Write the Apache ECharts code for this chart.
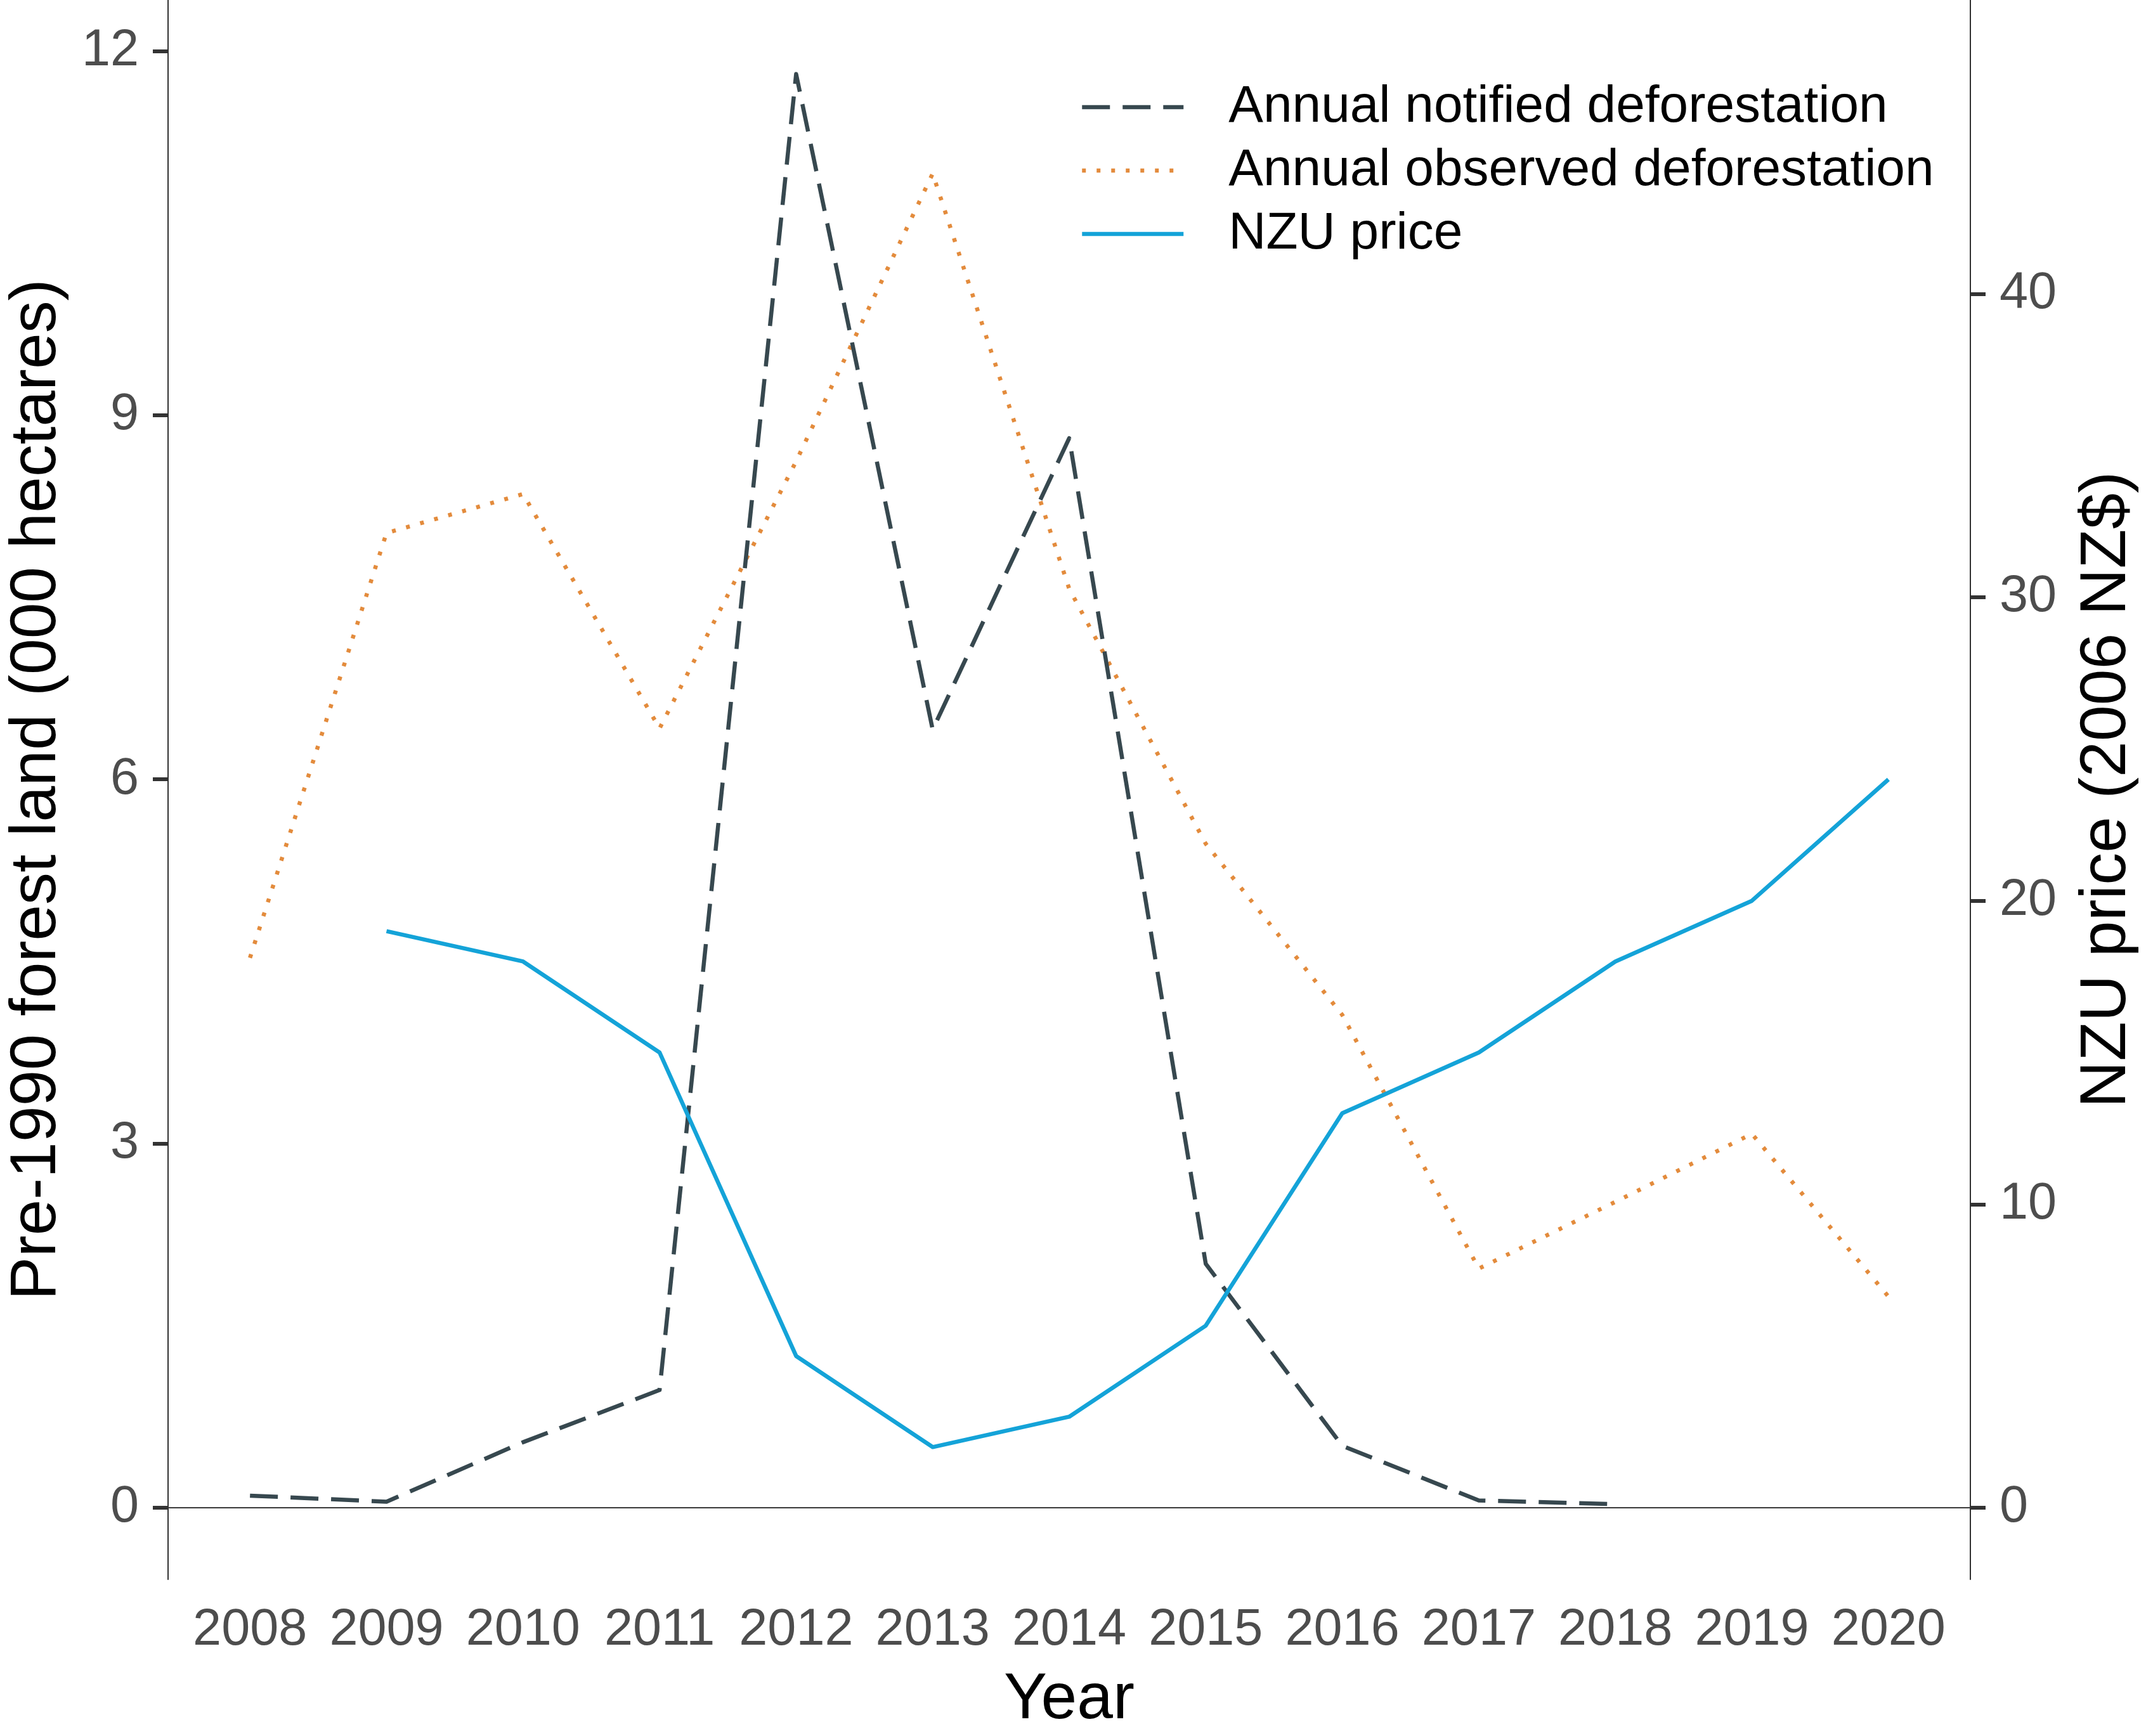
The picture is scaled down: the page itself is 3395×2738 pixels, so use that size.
<!DOCTYPE html>
<html>
<head>
<meta charset="utf-8">
<script src="https://cdn.jsdelivr.net/npm/echarts@6/dist/echarts.min.js"></script>
<style>
html,body{margin:0;padding:0;background:#fff;}
#chart{width:3395px;height:2738px;}
</style>
</head>
<body>
<div id="chart"></div>
<script>
const years = [2008, 2009, 2010, 2011, 2012, 2013, 2014, 2015, 2016, 2017, 2018, 2019, 2020];
const notifiedDeforestation = [0.10, 0.05, 0.54, 0.97, 11.81, 6.41, 8.81, 2.01, 0.51, 0.06, 0.03, null, null];
const observedDeforestation = [4.53, 8.03, 8.35, 6.42, 8.62, 10.99, 7.57, 5.47, 4.06, 1.97, 2.52, 3.08, 1.74];
const nzuPrice = [null, 19, 18, 15, 5, 2, 3, 6, 13, 15, 18, 20, 24];
const leftTicks = [0, 3, 6, 9, 12];
const rightTicks = [0, 10, 20, 30, 40];
const seriesNames = ['Annual notified deforestation', 'Annual observed deforestation', 'NZU price'];

const pairs = (vals) => years.map((y, i) => [y, vals[i]]).filter(p => p[1] !== null);

const FONT = 'Liberation Sans, Arial, sans-serif';
const LW = 6.5;
const chart = echarts.init(document.getElementById('chart'), null, {renderer: 'canvas'});
chart.setOption({
  animation: false,
  backgroundColor: '#ffffff',
  grid: {left: 264, right: 288, top: 0, bottom: 232, containLabel: false},
  legend: {
    orient: 'vertical',
    left: 1698,
    top: 114,
    itemWidth: 160,
    itemHeight: 20,
    itemGap: 0,
    data: seriesNames,
    itemStyle: {color: 'rgba(0,0,0,0)', borderWidth: 0, opacity: 0},
    lineStyle: {width: LW, opacity: 1},
    textStyle: {fontFamily: FONT, fontSize: 82, color: '#000', lineHeight: 100, padding: [0, 0, 0, 66]}
  },
  xAxis: {
    type: 'value',
    min: 2007.4,
    max: 2020.6,
    name: 'Year',
    nameLocation: 'middle',
    nameGap: 140,
    nameTextStyle: {fontFamily: FONT, fontSize: 102, color: '#000'},
    axisLine: {show: false},
    axisTick: {show: false},
    splitLine: {show: false},
    axisLabel: {
      customValues: years,
      margin: 40,
      fontFamily: FONT, fontSize: 81, color: '#4d4d4d',
      formatter: v => String(v)
    }
  },
  yAxis: [{
    type: 'value',
    position: 'left',
    min: -0.59,
    max: 12.42,
    name: 'Pre-1990 forest land (000 hectares)',
    nameLocation: 'middle',
    nameRotate: 90,
    nameGap: 155,
    nameTextStyle: {fontFamily: FONT, fontSize: 102, color: '#000'},
    axisLine: {show: true, onZero: false, lineStyle: {color: '#333', width: 2}},
    axisTick: {show: true, customValues: leftTicks, length: 24, lineStyle: {color: '#333', width: 6}},
    splitLine: {show: false},
    axisLabel: {customValues: leftTicks, margin: 46, fontFamily: FONT, fontSize: 81, color: '#4d4d4d'}
  }, {
    type: 'value',
    position: 'right',
    min: -2.36,
    max: 49.68,
    name: 'NZU price (2006 NZ$)',
    nameLocation: 'middle',
    nameRotate: 90,
    nameGap: 165,
    nameTextStyle: {fontFamily: FONT, fontSize: 102, color: '#000'},
    axisLine: {show: true, onZero: false, lineStyle: {color: '#333', width: 2}},
    axisTick: {show: true, customValues: rightTicks, length: 24, lineStyle: {color: '#333', width: 6}},
    splitLine: {show: false},
    axisLabel: {customValues: rightTicks, margin: 46, fontFamily: FONT, fontSize: 81, color: '#4d4d4d'}
  }],
  series: [{
    name: seriesNames[0],
    type: 'line',
    yAxisIndex: 0,
    data: pairs(notifiedDeforestation),
    symbol: 'none',
    color: '#37484f',
    lineStyle: {color: '#37484f', width: LW, type: [44, 20], cap: 'butt', join: 'round'},
    markLine: {
      silent: true,
      symbol: 'none',
      label: {show: false},
      lineStyle: {color: '#3a3a3a', width: 2, type: 'solid'},
      data: [{yAxis: 0}]
    },
    z: 3
  }, {
    name: seriesNames[1],
    type: 'line',
    yAxisIndex: 0,
    data: pairs(observedDeforestation),
    symbol: 'none',
    color: '#e38b3c',
    lineStyle: {color: '#e38b3c', width: LW, type: [6, 17], cap: 'butt', join: 'round'},
    z: 2
  }, {
    name: seriesNames[2],
    type: 'line',
    yAxisIndex: 1,
    data: pairs(nzuPrice),
    symbol: 'none',
    color: '#14a3d8',
    lineStyle: {color: '#14a3d8', width: LW, type: 'solid', cap: 'butt', join: 'round'},
    z: 4
  }]
});
</script>
</body>
</html>
